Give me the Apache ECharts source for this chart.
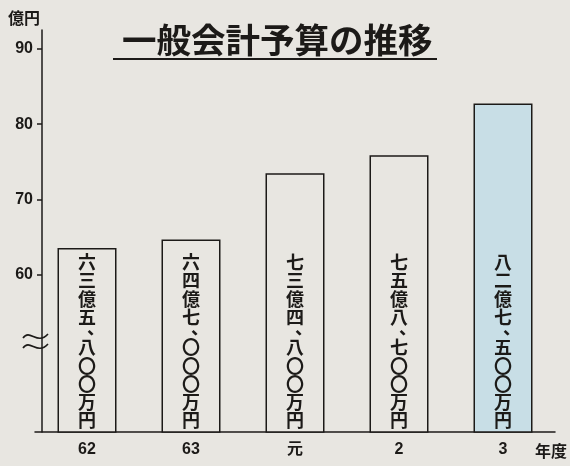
<!DOCTYPE html>
<html>
<head>
<meta charset="utf-8">
<script src="https://cdn.jsdelivr.net/npm/echarts@6/dist/echarts.min.js"></script>
<style>
html,body{margin:0;padding:0;background:#e8e6e1;}
#chart{width:570px;height:466px;}
</style>
</head>
<body>
<div id="chart"></div>
<script>
const years = ['62', '63', '元', '2', '3'];
const budget = [63.58, 64.70, 73.48, 75.87, 82.75];
const budgetText = ['六三億五、八〇〇万円', '六四億七、〇〇〇万円', '七三億四、八〇〇万円', '七五億八、七〇〇万円', '八二億七、五〇〇万円'];
const yTicks = [60, 70, 80, 90];
const titleText = '一般会計予算の推移';

const INK = '#1c1a18';
const FONT = '"Liberation Sans", "Noto Sans CJK JP", sans-serif';
const CJK = '"Noto Sans CJK JP", sans-serif';

const chart = echarts.init(document.getElementById('chart'), null, {renderer: 'canvas'});
chart.setOption({
  backgroundColor: '#e8e6e1',
  animation: false,
  title: {
    text: titleText,
    left: 117, top: 18,
    textStyle: {fontFamily: CJK, fontSize: 34.5, fontWeight: 'bold', color: INK}
  },
  grid: {left: 35, right: 15, top: 30, bottom: 34, outerBoundsMode: 'none'},
  xAxis: {
    type: 'category',
    data: years,
    name: '年度',
    nameLocation: 'end',
    nameGap: -20,
    nameTextStyle: {fontFamily: CJK, fontSize: 16, fontWeight: 'bold', color: INK, verticalAlign: 'top', padding: [11, 0, 0, 0]},
    axisLine: {onZero: false, lineStyle: {color: INK, width: 1.5}},
    axisTick: {show: false},
    axisLabel: {margin: 10, fontFamily: FONT, fontSize: 16, fontWeight: 'bold', color: INK}
  },
  yAxis: {
    type: 'value',
    min: 39.14,
    max: 92.5,
    offset: -7,
    name: '億円',
    nameLocation: 'end',
    nameGap: 12,
    nameTextStyle: {fontFamily: CJK, fontSize: 16, fontWeight: 'bold', color: INK, align: 'right', verticalAlign: 'middle', padding: [0, 2, 0, 0]},
    splitLine: {show: false},
    axisLine: {show: true, lineStyle: {color: INK, width: 1.5}},
    axisTick: {show: true, customValues: yTicks, length: 5, lineStyle: {color: INK, width: 1.5}},
    axisLabel: {customValues: yTicks, margin: 9, fontFamily: FONT, fontSize: 16, fontWeight: 'bold', color: INK}
  },
  series: [{
    type: 'bar',
    barWidth: 59,
    data: budget.map((v, i) => i === budget.length - 1
      ? {value: v, itemStyle: {color: '#c8dee6'}}
      : v),
    itemStyle: {color: '#e8e6e1', borderColor: INK, borderWidth: 1.5},
    label: {
      show: true,
      position: 'insideBottom',
      distance: 3,
      formatter: p => budgetText[p.dataIndex].split('').map(ch => ch === '、' ? '{p|、}' : '{c|' + ch + '}').join('\n'),
      rich: {
        c: {fontFamily: CJK, fontSize: 18, fontWeight: 'bold', color: INK, lineHeight: 18.3},
        p: {fontFamily: CJK, fontSize: 18, fontWeight: 'bold', color: INK, lineHeight: 12, padding: [0, 0, 11, 18]}
      }
    }
  }],
  graphic: [
    {type: 'line', shape: {x1: 113, y1: 59, x2: 437, y2: 59}, style: {stroke: INK, lineWidth: 2}},
    {type: 'bezierCurve', shape: {x1: 23, y1: 338, cpx1: 30, cpy1: 328, cpx2: 37, cpy2: 346, x2: 48, y2: 334}, style: {stroke: INK, lineWidth: 1.6, fill: null}},
    {type: 'bezierCurve', shape: {x1: 23, y1: 348, cpx1: 30, cpy1: 338, cpx2: 37, cpy2: 356, x2: 48, y2: 344}, style: {stroke: INK, lineWidth: 1.6, fill: null}}
  ]
});
</script>
</body>
</html>
